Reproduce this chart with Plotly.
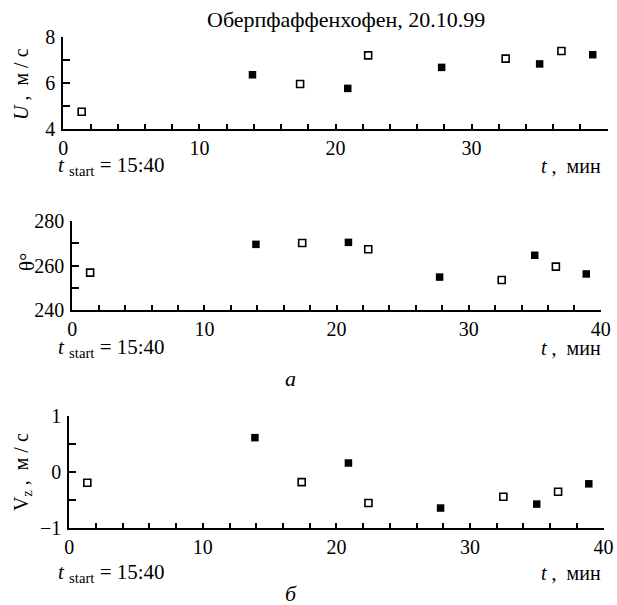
import plotly.graph_objects as go

# ---- data ----
t_open = [1.35, 17.4, 22.4, 32.5, 36.6]
t_filled = [13.9, 20.9, 27.8, 35.0, 38.9]

U_open = [4.75, 5.95, 7.19, 7.05, 7.38]
U_filled = [6.35, 5.76, 6.67, 6.82, 7.22]

theta_open = [256.8, 270.1, 267.3, 253.5, 259.5]
theta_filled = [269.5, 270.4, 254.8, 264.6, 256.2]

Vz_open = [-0.19, -0.18, -0.55, -0.44, -0.35]
Vz_filled = [0.61, 0.16, -0.64, -0.57, -0.21]

x_range = [0, 40]
U_range = [4, 8]
theta_range = [240, 280]
Vz_range = [-1, 1]

W, H = 617, 605
FONT = "Liberation Serif, Times New Roman, serif"


def px_x(p):
    return p / W


def px_y(p):
    return 1 - p / H


fig = go.Figure()

panels = [
    ("x", "y", U_open, U_filled),
    ("x2", "y2", theta_open, theta_filled),
    ("x3", "y3", Vz_open, Vz_filled),
]
for xa, ya, yo, yf in panels:
    fig.add_trace(go.Scatter(x=t_open, y=yo, xaxis=xa, yaxis=ya, mode="markers",
                             marker=dict(symbol="square-open", size=7, color="black",
                                         line=dict(width=1.6, color="black")),
                             cliponaxis=False, showlegend=False, hoverinfo="skip"))
    fig.add_trace(go.Scatter(x=t_filled, y=yf, xaxis=xa, yaxis=ya, mode="markers",
                             marker=dict(symbol="square", size=7.5, color="black"),
                             cliponaxis=False, showlegend=False, hoverinfo="skip"))

tickfont = dict(family=FONT, size=20, color="black")


def xax(domain, anchor):
    return dict(domain=domain, anchor=anchor, range=x_range, dtick=10, tick0=0,
                ticks="inside", ticklen=5, tickwidth=2, tickcolor="black",
                minor=dict(dtick=2, ticks="inside", ticklen=5, tickwidth=2, tickcolor="black"),
                showline=True, linewidth=2, linecolor="black", showgrid=False,
                zeroline=False, tickfont=tickfont, ticklabelstandoff=0, automargin=False)


def yax(domain, anchor, rng, dtick, mdtick):
    return dict(domain=domain, anchor=anchor, range=rng, dtick=dtick, tick0=rng[0],
                ticks="inside", ticklen=7, tickwidth=2, tickcolor="black",
                minor=dict(dtick=mdtick, ticks="inside", ticklen=7, tickwidth=2, tickcolor="black"),
                showline=True, linewidth=2, linecolor="black", showgrid=False,
                zeroline=False, tickfont=tickfont, ticklabelstandoff=2, automargin=False)


fig.update_layout(
    width=W, height=H, margin=dict(l=0, r=0, t=0, b=0, autoexpand=False),
    paper_bgcolor="white", plot_bgcolor="white",
    font=dict(family=FONT, size=20, color="black"),
    xaxis=xax([px_x(63.3), px_x(607.7)], "y"),
    yaxis=yax([px_y(129), px_y(36.7)], "x", U_range, 2, 1),
    xaxis2=xax([px_x(72.3), px_x(600.8)], "y2"),
    yaxis2=yax([px_y(310), px_y(221)], "x2", theta_range, 20, 10),
    xaxis3=xax([px_x(69.3), px_x(603.5)], "y3"),
    yaxis3=yax([px_y(528.3), px_y(415.7)], "x3", Vz_range, 1, 0.5),
)

ann = []


def add(text, x, y, size=20, xanchor="center", yanchor="middle", angle=0):
    ann.append(dict(text=text, x=px_x(x), y=px_y(y), xref="paper", yref="paper",
                    xanchor=xanchor, yanchor=yanchor, showarrow=False, textangle=angle,
                    font=dict(family=FONT, size=size, color="black")))


add("Оберпфаффенхофен, 20.10.99", 346, 19, size=22)
tstart = "<i>t</i> <sub>start</sub> = 15:40"
tmin = "<i>t</i> ,  мин"
for ylab in (166, 348, 573):
    add(tstart, 56, ylab, xanchor="left", size=21)
    add(tmin, 603, ylab, xanchor="right")
add("<i>U</i> ,  м / с", 21, 84, angle=-90)
add("θ°", 27, 262, angle=-90, size=21)
add("V<sub>z</sub> ,  м / с", 22, 472, angle=-90)
add("<i>а</i>", 290, 378, size=22)
add("<i>б</i>", 291, 593, size=22)

fig.update_layout(annotations=ann)
fig.write_html("out.html", config={"displayModeBar": False, "staticPlot": True},
               post_script="document.body.style.margin='0';document.body.style.overflow='hidden';")
